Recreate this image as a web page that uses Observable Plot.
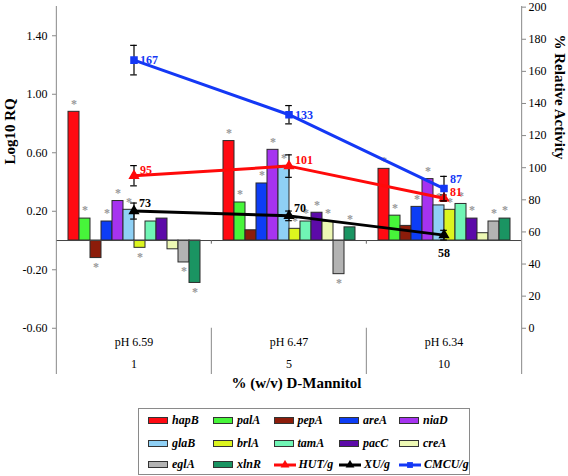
<!DOCTYPE html>
<html><head><meta charset="utf-8">
<script src="https://cdn.jsdelivr.net/npm/d3@7"></script>
<script src="https://cdn.jsdelivr.net/npm/@observablehq/plot@0.6"></script>
<style>
body{margin:0;background:#fff;}
#chart{position:relative;width:568px;height:476px;background:#fff;overflow:hidden;font-family:"Liberation Serif","Times New Roman",serif;}
#chart svg.layer{position:absolute;left:0;top:0;}
#legend{position:absolute;left:138px;top:408px;width:332px;height:67px;border:1px solid #8a8a8a;box-sizing:border-box;background:#fff;}
.item{position:absolute;display:flex;align-items:center;height:14px;font:italic bold 12px "Liberation Serif",serif;color:#000;white-space:nowrap;}
.sw{width:20px;height:7px;border:1px solid #333;box-sizing:border-box;margin-right:4px;}
</style></head><body><div id="chart"></div>
<script>
// ---- data ----
const groups = ["pH 6.59", "pH 6.47", "pH 6.34"];
const mannitol = ["1", "5", "10"];
const genes = ["hapB","palA","pepA","areA","niaD","glaB","brlA","tamA","pacC","creA","eglA","xlnR"];
const geneColors = ["#ff0a12","#47f53a","#8c1c0a","#0d3df5","#a633f0","#8fd0f5","#dcf51f","#70f5b5","#5c0aa8","#edf8b4","#b3b3b3","#1a9462"];
const rqPH659 = [0.88, 0.15, -0.12, 0.13, 0.27, 0.21, -0.05, 0.13, 0.15, -0.06, -0.15, -0.29];
const rqPH647 = [0.68, 0.26, 0.07, 0.39, 0.62, 0.51, 0.08, 0.13, 0.19, 0.13, -0.23, 0.09];
const rqPH634 = [0.49, 0.17, 0.10, 0.23, 0.42, 0.24, 0.21, 0.25, 0.15, 0.05, 0.13, 0.15];
const sigPH659 = [1,1,1,1,1,1,1,0,0,0,1,1];
const sigPH647 = [1,1,0,1,1,1,1,1,1,1,1,1];
const sigPH634 = [1,1,0,1,1,1,1,1,1,0,1,1];
const hutValues = [95, 101, 81];
const hutErrors = [6.3, 7, 2];
const xuValues = [73, 70, 58];
const xuErrors = [5, 3, 3];
const cmcuValues = [167, 133, 87];
const cmcuErrors = [9.2, 5.7, 7.6];
const rqTicks = [-0.6, -0.2, 0.2, 0.6, 1.0, 1.4];
const activityTicks = [0, 20, 40, 60, 80, 100, 120, 140, 160, 180, 200];
const seriesNames = ["HUT/g", "XU/g", "CMCU/g"];
const seriesColors = ["#ff0a0a", "#000000", "#1438f5"];
const seriesSymbols = ["triangle", "triangle", "square"];

// ---- layout ----
const W = 568, H = 400, mL = 55, mR = 47, mT = 6, mB = 26;
const band = (W - mL - mR) / 3;
const rqDomain = [-0.916, 1.6];
const actDomain = [-28.8, 200.4];
const rqToAct = v => actDomain[0] + (v - rqDomain[0]) * (actDomain[1] - actDomain[0]) / (rqDomain[1] - rqDomain[0]);
const serif = "Liberation Serif, Times New Roman, serif";

const rqAll = [rqPH659, rqPH647, rqPH634];
const sigAll = [sigPH659, sigPH647, sigPH634];
const bars = groups.flatMap((g, i) => genes.map((gene, j) => ({group: g, gene, value: rqAll[i][j], sig: sigAll[i][j]})));

const chart = document.getElementById("chart");

const p1 = Plot.plot({
  width: W, height: H, marginLeft: mL, marginRight: mR, marginTop: mT, marginBottom: mB,
  style: {fontFamily: serif, fontSize: "12px", background: "transparent", overflow: "visible"},
  fx: {domain: groups, padding: 0, axis: null},
  x: {domain: genes, paddingInner: 0, paddingOuter: 0.75, axis: null},
  y: {domain: rqDomain, axis: null},
  color: {domain: genes, range: geneColors},
  marks: [
    Plot.axisY(rqTicks, {tickFormat: d => d.toFixed(2), tickSize: 4, tickPadding: 5, stroke: "#888", fill: "#000", fontSize: 12, label: null}),
    Plot.barY(bars, {fx: "group", x: "gene", y: "value", fill: "gene", stroke: "#2a2a2a", strokeWidth: 1}),
    Plot.ruleY([0], {stroke: "#444", strokeWidth: 1}),
    Plot.text(bars.filter(d => d.sig && d.value > 0), {fx: "group", x: "gene", y: "value", text: () => "*", dy: -8, fill: "#999", fontSize: 12, fontWeight: "bold"}),
    Plot.text(bars.filter(d => d.sig && d.value < 0), {fx: "group", x: "gene", y: "value", text: () => "*", dy: 9, fill: "#999", fontSize: 12, fontWeight: "bold"})
  ]
});
p1.classList.add("layer");
chart.appendChild(p1);

const seriesValues = [hutValues, xuValues, cmcuValues];
const seriesErrors = [hutErrors, xuErrors, cmcuErrors];
const pts = seriesNames.flatMap((s, k) => groups.map((g, i) => ({series: s, group: g, value: seriesValues[k][i], err: seriesErrors[k][i]})));
const capInset = band / 2 - 3.5;

const seriesMarks = seriesNames.flatMap((s, k) => {
  const d = pts.filter(p => p.series === s);
  return [
    Plot.line(d, {x: "group", y: "value", stroke: seriesColors[k], strokeWidth: 3}),
    Plot.ruleX(d, {x: "group", y1: p => p.value - p.err, y2: p => p.value + p.err, stroke: "#000", strokeWidth: 1.2}),
    Plot.tickY(d, {x: "group", y: p => p.value + p.err, insetLeft: capInset, insetRight: capInset, stroke: "#000", strokeWidth: 1.2}),
    Plot.tickY(d, {x: "group", y: p => p.value - p.err, insetLeft: capInset, insetRight: capInset, stroke: "#000", strokeWidth: 1.2}),
    Plot.dot(d, {x: "group", y: "value", symbol: seriesSymbols[k], r: seriesSymbols[k] === "square" ? 3.4 : 3.2, fill: seriesColors[k], stroke: seriesColors[k]})
  ];
});

const lbl = (series, filt, opts) => Plot.text(pts.filter(p => p.series === series && filt(p)), Object.assign({x: "group", y: "value", text: p => String(p.value), textAnchor: "start", fontWeight: "bold", fontSize: 12, fill: seriesColors[seriesNames.indexOf(series)]}, opts));

const p2 = Plot.plot({
  width: W, height: H, marginLeft: mL, marginRight: mR, marginTop: mT, marginBottom: mB,
  style: {fontFamily: serif, fontSize: "12px", background: "transparent", overflow: "visible"},
  x: {domain: groups, padding: 0, axis: null},
  y: {domain: actDomain, axis: null},
  marks: [
    Plot.ruleX([groups[0]], {x: d => d, dx: -band / 2, stroke: "#888"}),
    Plot.ruleX([groups[2]], {x: d => d, dx: band / 2, stroke: "#888"}),
    Plot.ruleX(groups.slice(1), {x: d => d, dx: -band / 2, y1: 0, y2: actDomain[0], stroke: "#888"}),
    Plot.ruleX(groups.slice(1), {x: d => d, dx: -band / 2, y1: rqToAct(0), y2: rqToAct(-0.025), stroke: "#666"}),
    Plot.axisY(activityTicks, {anchor: "right", tickSize: 4, tickPadding: 3, stroke: "#888", fill: "#000", fontSize: 12, label: null}),
    ...seriesMarks,
    lbl("CMCU/g", p => p.value !== 87, {dx: 6, dy: 0}),
    lbl("CMCU/g", p => p.value === 87, {dx: 6, dy: -9}),
    lbl("HUT/g", p => true, {dx: 6, dy: -6}),
    lbl("XU/g", p => p.value !== 58, {dx: 5, dy: -8}),
    lbl("XU/g", p => p.value === 58, {textAnchor: "middle", dy: 18}),
    Plot.text(groups, {x: d => d, frameAnchor: "bottom", dy: -29, text: d => d, fontSize: 12}),
    Plot.text(mannitol, {x: (d, i) => groups[i], frameAnchor: "bottom", dy: -7, text: d => d, fontSize: 12}),
    Plot.text(["% (w/v) D-Mannitol"], {frameAnchor: "bottom", dx: 8, dy: 13, fontWeight: "bold", fontSize: 15}),
    Plot.text(["Log10 RQ"], {frameAnchor: "left", rotate: -90, dx: -45, dy: -26, fontWeight: "bold", fontSize: 15}),
    Plot.text(["% Relative Activity"], {frameAnchor: "right", rotate: 90, dx: 38, dy: -31, fontWeight: "bold", fontSize: 15})
  ]
});
p2.classList.add("layer");
chart.appendChild(p2);

// ---- legend ----
const legend = document.createElement("div");
legend.id = "legend";
chart.appendChild(legend);
const colX = [9, 74, 134.5, 200, 260];
const rowY = [4.5, 27, 48.5];
const items = genes.map((g, i) => ({label: g, color: geneColors[i], kind: "bar"}))
  .concat(seriesNames.map((s, k) => ({label: s, color: seriesColors[k], kind: seriesSymbols[k]})));
items.forEach((it, i) => {
  const el = document.createElement("div");
  el.className = "item";
  el.style.left = colX[i % 5] + "px";
  el.style.top = rowY[Math.floor(i / 5)] + "px";
  if (it.kind === "bar") {
    const sw = document.createElement("div");
    sw.className = "sw";
    sw.style.background = it.color;
    el.appendChild(sw);
  } else {
    const svg = d3.create("svg").attr("width", 22).attr("height", 10).style("margin-right", "3px");
    svg.append("line").attr("x1", 0).attr("x2", 22).attr("y1", 5).attr("y2", 5).attr("stroke", it.color).attr("stroke-width", 3);
    svg.append("path").attr("transform", "translate(11,5)")
      .attr("d", d3.symbol(it.kind === "square" ? d3.symbolSquare : d3.symbolTriangle, 34)())
      .attr("fill", it.color);
    el.appendChild(svg.node());
  }
  const t = document.createElement("span");
  t.textContent = it.label;
  el.appendChild(t);
  legend.appendChild(el);
});
</script></body></html>
